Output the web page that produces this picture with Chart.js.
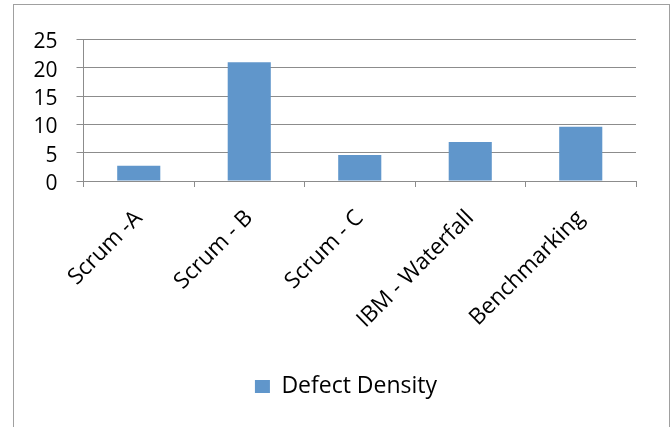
<!DOCTYPE html>
<html>
<head>
<meta charset="utf-8">
<script src="https://cdn.jsdelivr.net/npm/chart.js@4"></script>
<style>
  html, body { margin: 0; padding: 0; background: #ffffff; }
  #wrap { position: relative; width: 670px; height: 427px; }
</style>
</head>
<body>
<div id="wrap"><canvas id="c" width="670" height="427"></canvas></div>
<script>
const categories = ["Scrum -A", "Scrum - B", "Scrum - C", "IBM - Waterfall", "Benchmarking"];
const defectDensity = [2.7, 21, 4.6, 6.9, 9.6];
const seriesName = "Defect Density";
const yMin = 0, yMax = 25, yStep = 5;

const frame = {
  id: 'frame',
  beforeDraw(chart) {
    const ctx = chart.ctx;
    ctx.save();
    ctx.fillStyle = '#ffffff';
    ctx.fillRect(0, 0, chart.width, chart.height);
    ctx.strokeStyle = '#a0a0a0';
    ctx.lineWidth = 1;
    ctx.strokeRect(13.5, 4.5, 656, 440);
    ctx.restore();
  },
  afterLayout(chart) {
    // centre the legend within the outer frame, as in the original
    const lg = chart.legend;
    if (lg) { lg.left += 21.5; lg.right += 21.5; }
  }
};

Chart.defaults.font.family = '"Open Sans", sans-serif';
Chart.defaults.color = '#000000';

new Chart(document.getElementById('c'), {
  type: 'bar',
  data: {
    labels: categories,
    datasets: [{
      label: seriesName,
      data: defectDensity,
      backgroundColor: '#6096cb',
      borderWidth: 0,
      categoryPercentage: 1.0,
      barPercentage: 0.39
    }]
  },
  options: {
    responsive: false,
    animation: false,
    devicePixelRatio: 1,
    layout: { padding: { left: 13, right: 34, top: 39.5, bottom: 19 } },
    plugins: {
      tooltip: { enabled: false },
      legend: {
        position: 'bottom',
        labels: {
          boxWidth: 15,
          boxHeight: 13,
          padding: 10,
          font: { size: 23 },
          color: '#000000'
        }
      }
    },
    scales: {
      x: {
        offset: true,
        grid: {
          offset: true,
          drawOnChartArea: false,
          drawTicks: true,
          tickLength: 6,
          color: '#8c8c8c'
        },
        border: { color: '#8c8c8c', width: 1 },
        ticks: {
          minRotation: 45,
          maxRotation: 45,
          autoSkip: false,
          padding: 18,
          font: { size: 22.5 },
          color: '#000000'
        },
        afterFit(scale) { scale.height = 184; }
      },
      y: {
        min: yMin,
        max: yMax,
        ticks: {
          stepSize: yStep,
          padding: 19,
          labelOffset: 3,
          font: { size: 21 },
          color: '#000000'
        },
        grid: {
          color: '#8c8c8c',
          tickLength: 7,
          lineWidth: 1
        },
        border: { color: '#8c8c8c', width: 1 },
        afterFit(scale) { scale.width = 70.5; }
      }
    }
  },
  plugins: [frame]
});
</script>
</body>
</html>
